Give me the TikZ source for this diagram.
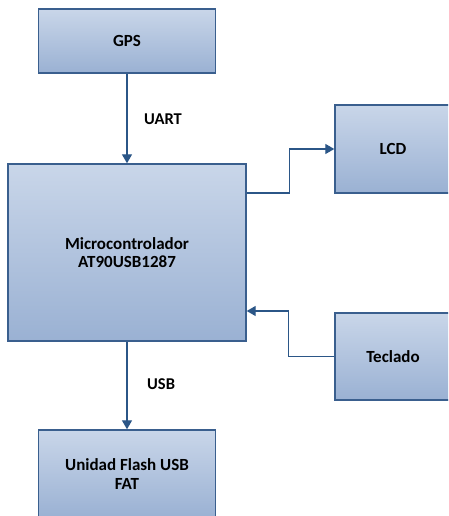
\documentclass[tikz,border=0pt]{standalone}
\usepackage{fontspec}
\setmainfont{Carlito}
\usetikzlibrary{arrows.meta,calc,shadings}
\definecolor{boxtop}{HTML}{C9D6E9}
\definecolor{boxbot}{HTML}{9AB1D3}
\definecolor{boxline}{HTML}{3A5F8E}
\definecolor{arrowc}{HTML}{2B5687}
\tikzset{
  blk/.style={draw=boxline, line width=1.4pt, top color=boxtop, bottom color=boxbot,
    rectangle, inner sep=0pt, align=center,
    font=\fontsize{17pt}{18.5pt}\selectfont\bfseries},
  conn/.style={draw=arrowc, line width=1.3pt, -{Triangle[length=9pt,width=10pt]}},
  lbl/.style={font=\fontsize{16.5pt}{18pt}\selectfont\bfseries, inner sep=0pt, anchor=west}
}
\begin{document}
\begin{tikzpicture}[x=1pt,y=-1pt]
\useasboundingbox (0,0) rectangle (448,516);
\clip (0,0) rectangle (448,516);
\node[blk, minimum width=177pt, minimum height=64pt] (gps) at (127,41) {GPS};
\node[blk, minimum width=238pt, minimum height=177pt] (micro) at (127,252.5) {Microcontrolador\\AT90USB1287};
\node[blk, minimum width=116pt, minimum height=88pt] (lcd) at (393,149) {LCD};
\node[blk, minimum width=116pt, minimum height=87pt] (tec) at (393,356.5) {Teclado};
\node[blk, minimum width=177pt, minimum height=88pt] (flash) at (127,474) {Unidad Flash USB\\FAT};
\draw[conn] (gps.south) -- (micro.north);
\draw[conn] (micro.south) -- (flash.north);
\draw[conn] ($(micro.east)+(0,-59.5)$) -- ++(43,0) |- (lcd.west);
\draw[conn] (tec.west) -- ++(-46,0) |- ($(micro.east)+(0,58.5)$);
\node[lbl] (uart) at (144,119.5) {UART};
\node[lbl] (usb) at (147,384.5) {USB};
\end{tikzpicture}
\end{document}
